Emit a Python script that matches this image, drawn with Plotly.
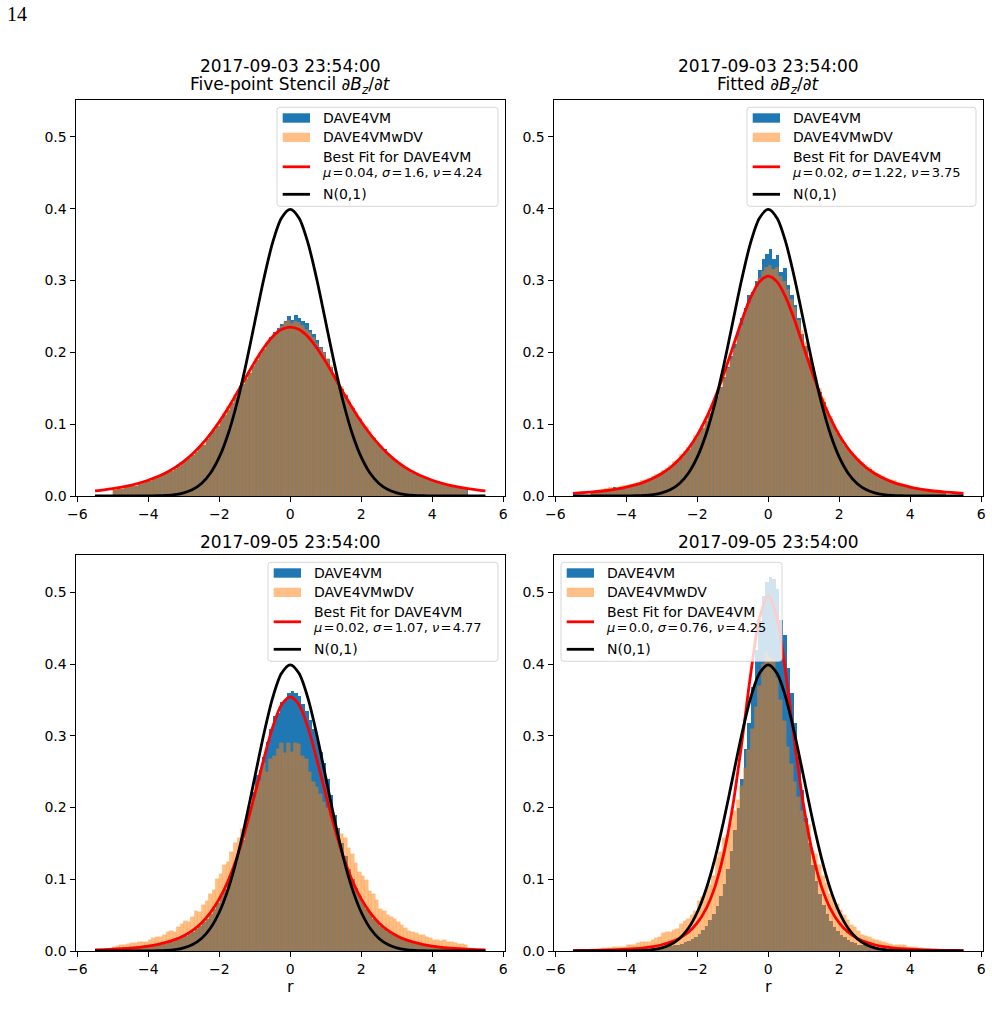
import numpy as np
import plotly.graph_objects as go

W, H = 992, 1031
FONT = "DejaVu Sans"

# ---------------- data ----------------
bin_start, bin_width, n_bins = -5.0, 0.1, 100
curve_x = np.linspace(-5.5, 5.5, 45)

titles = [
    ["2017-09-03 23:54:00", "Five-point Stencil ∂<i>B</i><sub><i>z</i></sub>/∂<i>t</i>"],
    ["2017-09-03 23:54:00", "Fitted ∂<i>B</i><sub><i>z</i></sub>/∂<i>t</i>"],
    ["2017-09-05 23:54:00"],
    ["2017-09-05 23:54:00"],
]
series_names = ["DAVE4VM", "DAVE4VMwDV", "Best Fit for DAVE4VM", "N(0,1)"]
EQ = "\u200a=\u200a"
fit_labels = [
    f"<i>μ</i>{EQ}0.04, <i>σ</i>{EQ}1.6, <i>ν</i>{EQ}4.24",
    f"<i>μ</i>{EQ}0.02, <i>σ</i>{EQ}1.22, <i>ν</i>{EQ}3.75",
    f"<i>μ</i>{EQ}0.02, <i>σ</i>{EQ}1.07, <i>ν</i>{EQ}4.77",
    f"<i>μ</i>{EQ}0.0, <i>σ</i>{EQ}0.76, <i>ν</i>{EQ}4.25",
]

a_blue = [
    0.009, 0.012, 0.011, 0.013, 0.014, 0.016, 0.015, 0.018, 0.019, 0.021,
    0.022, 0.024, 0.027, 0.028, 0.031, 0.035, 0.036, 0.038, 0.043, 0.046,
    0.051, 0.053, 0.058, 0.062, 0.070, 0.072, 0.080, 0.088, 0.092, 0.098,
    0.107, 0.113, 0.121, 0.130, 0.139, 0.148, 0.157, 0.164, 0.172, 0.181,
    0.190, 0.198, 0.206, 0.215, 0.222, 0.229, 0.234, 0.240, 0.244, 0.251,
    0.246, 0.252, 0.249, 0.244, 0.241, 0.232, 0.226, 0.218, 0.208, 0.201,
    0.192, 0.180, 0.168, 0.160, 0.150, 0.141, 0.132, 0.123, 0.114, 0.108,
    0.099, 0.093, 0.086, 0.081, 0.073, 0.069, 0.066, 0.059, 0.054, 0.050,
    0.045, 0.044, 0.040, 0.036, 0.033, 0.030, 0.029, 0.026, 0.025, 0.023,
    0.021, 0.020, 0.018, 0.017, 0.015, 0.014, 0.014, 0.012, 0.011, 0.010,
]
a_orange = [
    0.010, 0.011, 0.012, 0.012, 0.014, 0.015, 0.016, 0.017, 0.020, 0.021,
    0.023, 0.025, 0.026, 0.029, 0.032, 0.033, 0.037, 0.040, 0.042, 0.047,
    0.049, 0.055, 0.057, 0.064, 0.068, 0.075, 0.079, 0.086, 0.094, 0.100,
    0.106, 0.115, 0.124, 0.129, 0.141, 0.147, 0.158, 0.163, 0.174, 0.182,
    0.191, 0.199, 0.205, 0.213, 0.219, 0.226, 0.230, 0.236, 0.241, 0.244,
    0.240, 0.243, 0.241, 0.238, 0.232, 0.228, 0.220, 0.212, 0.206, 0.200,
    0.191, 0.181, 0.170, 0.158, 0.152, 0.142, 0.134, 0.125, 0.116, 0.109,
    0.101, 0.097, 0.090, 0.082, 0.075, 0.070, 0.063, 0.058, 0.055, 0.051,
    0.047, 0.042, 0.039, 0.037, 0.034, 0.031, 0.028, 0.027, 0.024, 0.022,
    0.021, 0.019, 0.018, 0.016, 0.016, 0.014, 0.013, 0.013, 0.011, 0.010,
]
b_blue = [
    0.006, 0.007, 0.009, 0.009, 0.010, 0.011, 0.013, 0.011, 0.012, 0.013,
    0.014, 0.016, 0.017, 0.018, 0.020, 0.022, 0.024, 0.025, 0.028, 0.033,
    0.035, 0.037, 0.041, 0.045, 0.050, 0.055, 0.060, 0.066, 0.074, 0.081,
    0.091, 0.095, 0.105, 0.116, 0.128, 0.140, 0.152, 0.166, 0.180, 0.196,
    0.213, 0.232, 0.248, 0.262, 0.280, 0.285, 0.300, 0.315, 0.330, 0.338,
    0.344, 0.330, 0.336, 0.312, 0.318, 0.295, 0.280, 0.266, 0.248, 0.226,
    0.210, 0.193, 0.177, 0.160, 0.146, 0.131, 0.119, 0.108, 0.097, 0.088,
    0.080, 0.072, 0.066, 0.060, 0.055, 0.050, 0.045, 0.041, 0.038, 0.034,
    0.031, 0.029, 0.026, 0.023, 0.022, 0.020, 0.018, 0.017, 0.015, 0.013,
    0.012, 0.012, 0.010, 0.009, 0.009, 0.008, 0.007, 0.008, 0.006, 0.006,
]
b_orange = [
    0.006, 0.008, 0.008, 0.009, 0.010, 0.012, 0.011, 0.012, 0.013, 0.014,
    0.015, 0.016, 0.018, 0.019, 0.021, 0.023, 0.024, 0.027, 0.030, 0.031,
    0.036, 0.038, 0.042, 0.048, 0.050, 0.058, 0.062, 0.068, 0.073, 0.084,
    0.089, 0.098, 0.106, 0.115, 0.126, 0.138, 0.151, 0.163, 0.178, 0.190,
    0.205, 0.222, 0.238, 0.255, 0.268, 0.282, 0.292, 0.303, 0.312, 0.318,
    0.321, 0.316, 0.318, 0.305, 0.298, 0.288, 0.274, 0.262, 0.245, 0.230,
    0.214, 0.198, 0.180, 0.165, 0.150, 0.136, 0.123, 0.110, 0.099, 0.091,
    0.083, 0.075, 0.068, 0.062, 0.056, 0.052, 0.047, 0.043, 0.040, 0.035,
    0.032, 0.030, 0.027, 0.025, 0.023, 0.021, 0.019, 0.017, 0.016, 0.014,
    0.013, 0.012, 0.011, 0.010, 0.009, 0.009, 0.008, 0.007, 0.007, 0.006,
]
c_blue = [
    0.002, 0.003, 0.003, 0.003, 0.004, 0.004, 0.004, 0.005, 0.005, 0.006,
    0.006, 0.007, 0.008, 0.009, 0.010, 0.012, 0.013, 0.015, 0.017, 0.019,
    0.021, 0.024, 0.027, 0.031, 0.035, 0.040, 0.045, 0.052, 0.059, 0.067,
    0.076, 0.086, 0.097, 0.110, 0.124, 0.139, 0.155, 0.176, 0.196, 0.222,
    0.245, 0.252, 0.270, 0.292, 0.310, 0.328, 0.332, 0.347, 0.350, 0.360,
    0.362, 0.360, 0.355, 0.345, 0.335, 0.322, 0.310, 0.295, 0.278, 0.262,
    0.240, 0.218, 0.190, 0.172, 0.150, 0.132, 0.115, 0.100, 0.088, 0.077,
    0.068, 0.059, 0.052, 0.045, 0.040, 0.035, 0.031, 0.027, 0.024, 0.021,
    0.019, 0.017, 0.015, 0.013, 0.012, 0.010, 0.009, 0.008, 0.007, 0.007,
    0.006, 0.005, 0.005, 0.004, 0.004, 0.004, 0.003, 0.003, 0.003, 0.002,
]
c_orange = [
    0.006, 0.007, 0.008, 0.009, 0.010, 0.011, 0.011, 0.012, 0.013, 0.013,
    0.015, 0.018, 0.020, 0.019, 0.023, 0.026, 0.028, 0.027, 0.033, 0.038,
    0.042, 0.041, 0.048, 0.056, 0.055, 0.064, 0.070, 0.080, 0.085, 0.100,
    0.108, 0.120, 0.124, 0.138, 0.150, 0.157, 0.170, 0.182, 0.200, 0.215,
    0.228, 0.237, 0.262, 0.250, 0.268, 0.272, 0.282, 0.290, 0.276, 0.290,
    0.277, 0.290, 0.288, 0.272, 0.268, 0.250, 0.236, 0.228, 0.219, 0.208,
    0.200, 0.190, 0.178, 0.170, 0.163, 0.157, 0.143, 0.135, 0.122, 0.110,
    0.105, 0.099, 0.083, 0.079, 0.071, 0.058, 0.056, 0.050, 0.047, 0.045,
    0.040, 0.036, 0.032, 0.028, 0.027, 0.025, 0.023, 0.022, 0.020, 0.018,
    0.016, 0.015, 0.014, 0.015, 0.013, 0.012, 0.011, 0.010, 0.010, 0.008,
]
d_blue = [
    0.001, 0.001, 0.001, 0.001, 0.001, 0.001, 0.001, 0.002, 0.002, 0.002,
    0.002, 0.002, 0.002, 0.003, 0.003, 0.003, 0.003, 0.004, 0.004, 0.005,
    0.005, 0.006, 0.007, 0.008, 0.009, 0.010, 0.012, 0.014, 0.017, 0.020,
    0.024, 0.029, 0.035, 0.043, 0.052, 0.063, 0.077, 0.094, 0.115, 0.140,
    0.168, 0.200, 0.240, 0.282, 0.318, 0.368, 0.420, 0.460, 0.495, 0.515,
    0.522, 0.518, 0.505, 0.462, 0.440, 0.395, 0.360, 0.318, 0.270, 0.225,
    0.185, 0.150, 0.120, 0.098, 0.080, 0.064, 0.052, 0.042, 0.034, 0.028,
    0.023, 0.019, 0.016, 0.013, 0.011, 0.009, 0.008, 0.007, 0.006, 0.005,
    0.005, 0.004, 0.004, 0.003, 0.003, 0.003, 0.002, 0.002, 0.002, 0.002,
    0.002, 0.002, 0.001, 0.001, 0.001, 0.001, 0.001, 0.001, 0.001, 0.001,
]
d_orange = [
    0.003, 0.003, 0.003, 0.004, 0.004, 0.004, 0.005, 0.005, 0.005, 0.006,
    0.008, 0.009, 0.009, 0.011, 0.012, 0.012, 0.013, 0.016, 0.018, 0.019,
    0.025, 0.026, 0.027, 0.029, 0.030, 0.038, 0.042, 0.045, 0.050, 0.056,
    0.070, 0.075, 0.085, 0.092, 0.105, 0.130, 0.138, 0.158, 0.162, 0.180,
    0.195, 0.210, 0.230, 0.255, 0.280, 0.310, 0.340, 0.370, 0.400, 0.415,
    0.410, 0.405, 0.380, 0.350, 0.320, 0.285, 0.260, 0.235, 0.215, 0.195,
    0.180, 0.175, 0.140, 0.135, 0.120, 0.105, 0.095, 0.080, 0.072, 0.066,
    0.057, 0.050, 0.043, 0.036, 0.033, 0.028, 0.022, 0.021, 0.019, 0.017,
    0.015, 0.014, 0.013, 0.011, 0.010, 0.009, 0.008, 0.008, 0.009, 0.006,
    0.005, 0.005, 0.004, 0.004, 0.003, 0.003, 0.003, 0.002, 0.002, 0.002,
]

# fitted curves sampled on curve_x (-5.5 .. 5.5 step 0.25)
a_fit = [0.0072, 0.0086, 0.0103, 0.0124, 0.0149, 0.0181, 0.0219, 0.0267, 0.0325, 0.0396,
         0.0483, 0.0589, 0.0715, 0.0863, 0.1034, 0.1226, 0.1436, 0.1654, 0.1867, 0.2060,
         0.2216, 0.2317, 0.2352, 0.2317, 0.2216, 0.2060, 0.1867, 0.1654, 0.1436, 0.1226,
         0.1034, 0.0863, 0.0715, 0.0589, 0.0483, 0.0396, 0.0325, 0.0267, 0.0219, 0.0181,
         0.0149, 0.0124, 0.0103, 0.0086, 0.0072]
b_fit = [0.0037, 0.0045, 0.0054, 0.0066, 0.0080, 0.0099, 0.0123, 0.0154, 0.0194, 0.0246,
         0.0313, 0.0400, 0.0514, 0.0661, 0.0848, 0.1083, 0.1369, 0.1703, 0.2069, 0.2437,
         0.2758, 0.2981, 0.3061, 0.2981, 0.2758, 0.2437, 0.2069, 0.1703, 0.1369, 0.1083,
         0.0848, 0.0661, 0.0514, 0.0400, 0.0313, 0.0246, 0.0194, 0.0154, 0.0123, 0.0099,
         0.0080, 0.0066, 0.0054, 0.0045, 0.0037]
c_fit = [0.0016, 0.0020, 0.0025, 0.0032, 0.0041, 0.0052, 0.0068, 0.0090, 0.0119, 0.0159,
         0.0213, 0.0289, 0.0392, 0.0534, 0.0726, 0.0980, 0.1309, 0.1714, 0.2181, 0.2669,
         0.3113, 0.3428, 0.3542, 0.3428, 0.3113, 0.2669, 0.2181, 0.1714, 0.1309, 0.0980,
         0.0726, 0.0534, 0.0392, 0.0289, 0.0213, 0.0159, 0.0119, 0.0090, 0.0068, 0.0052,
         0.0041, 0.0032, 0.0025, 0.0020, 0.0016]
d_fit = [0.0006, 0.0007, 0.0009, 0.0011, 0.0014, 0.0019, 0.0025, 0.0033, 0.0045, 0.0062,
         0.0087, 0.0124, 0.0179, 0.0262, 0.0392, 0.0591, 0.0898, 0.1360, 0.2017, 0.2883,
         0.3840, 0.4638, 0.4954, 0.4638, 0.3840, 0.2883, 0.2017, 0.1360, 0.0898, 0.0591,
         0.0392, 0.0262, 0.0179, 0.0124, 0.0087, 0.0062, 0.0045, 0.0033, 0.0025, 0.0019,
         0.0014, 0.0011, 0.0009, 0.0007, 0.0006]
std_normal = [0.0, 0.0, 0.0, 0.0, 0.0, 0.0, 0.0001, 0.0004, 0.0009, 0.0020,
              0.0044, 0.0091, 0.0175, 0.0317, 0.0540, 0.0863, 0.1295, 0.1826, 0.2420, 0.3011,
              0.3521, 0.3867, 0.3989, 0.3867, 0.3521, 0.3011, 0.2420, 0.1826, 0.1295, 0.0863,
              0.0540, 0.0317, 0.0175, 0.0091, 0.0044, 0.0020, 0.0009, 0.0004, 0.0001, 0.0,
              0.0, 0.0, 0.0, 0.0, 0.0]

blue_sets = [a_blue, b_blue, c_blue, d_blue]
orange_sets = [a_orange, b_orange, c_orange, d_orange]
fit_sets = [a_fit, b_fit, c_fit, d_fit]

x_ticks = [-6, -4, -2, 0, 2, 4, 6]
y_ticks = [0.0, 0.1, 0.2, 0.3, 0.4, 0.5]
y_tick_text = ["0.0", "0.1", "0.2", "0.3", "0.4", "0.5"]

# ---------------- layout geometry (page pixels) ----------------
panels = [
    dict(sfx="", x0=75.5, x1=505.0, y0=99.5, y1=496.0),
    dict(sfx="2", x0=553.5, x1=983.0, y0=99.5, y1=496.0),
    dict(sfx="3", x0=75.5, x1=505.0, y0=555.0, y1=951.0),
    dict(sfx="4", x0=553.5, x1=983.0, y0=555.0, y1=951.0),
]
legend_boxes = [  # (left, top, width) in page pixels
    (277.0, 107.3, 221.0),
    (747.0, 107.3, 229.0),
    (268.0, 562.3, 230.0),
    (561.0, 562.3, 221.0),
]


def px(x):
    return x / W


def py(y):
    return 1 - y / H


centers = bin_start + bin_width * (np.arange(n_bins) + 0.5)

fig = go.Figure()
layout = dict(
    width=W, height=H, autosize=False, margin=dict(l=0, r=0, t=0, b=0, pad=0),
    plot_bgcolor="white", paper_bgcolor="white", showlegend=False,
    barmode="overlay", bargap=0, font=dict(family=FONT, color="black"),
)
axis_common = dict(
    ticks="outside", ticklen=5, tickwidth=1, tickcolor="black",
    showline=True, linecolor="black", linewidth=1, mirror=True,
    showgrid=False, zeroline=False, automargin=False,
    tickfont=dict(family=FONT, size=14, color="black"),
)

annotations = []
shapes = []

for i, p in enumerate(panels):
    s = p["sfx"]
    layout["xaxis" + s] = dict(
        axis_common, domain=[px(p["x0"]), px(p["x1"])], range=[-6.05, 6.05],
        tickvals=x_ticks, anchor="y" + s)
    layout["yaxis" + s] = dict(
        axis_common, domain=[py(p["y1"]), py(p["y0"])], range=[0, 0.552],
        tickvals=y_ticks, ticktext=y_tick_text, anchor="x" + s)
    xa, ya = "x" + s, "y" + s
    fig.add_trace(go.Bar(
        x=centers, y=blue_sets[i], width=bin_width, xaxis=xa, yaxis=ya,
        marker=dict(color="#1f77b4", line=dict(width=0)), name=series_names[0]))
    fig.add_trace(go.Bar(
        x=centers, y=orange_sets[i], width=bin_width, xaxis=xa, yaxis=ya,
        marker=dict(color="rgba(255,127,14,0.5)",
                    line=dict(width=0.4, color="rgba(255,127,14,0.4)")),
        name=series_names[1]))
    fig.add_trace(go.Scatter(
        x=curve_x, y=fit_sets[i], mode="lines", xaxis=xa, yaxis=ya,
        line=dict(color="red", width=2.8, shape="spline", smoothing=0.8),
        name=series_names[2]))
    fig.add_trace(go.Scatter(
        x=curve_x, y=std_normal, mode="lines", xaxis=xa, yaxis=ya,
        line=dict(color="black", width=2.8, shape="spline", smoothing=0.8),
        name=series_names[3]))

    # titles
    cx = (p["x0"] + p["x1"]) / 2
    t = titles[i]
    if len(t) == 2:
        rows = [(t[0], p["y0"] - 33.5), (t[1], p["y0"] - 13.5)]
    else:
        rows = [(t[0], p["y0"] - 13.5)]
    for txt, yy in rows:
        annotations.append(dict(
            text=txt, x=px(cx), y=py(yy), xref="paper", yref="paper",
            xanchor="center", yanchor="middle", showarrow=False,
            font=dict(family=FONT, size=17, color="black")))

    # legend (matplotlib-like frame)
    bx, by, bw = legend_boxes[i]
    bh = 99.0
    r = 3.0
    X0, X1, Y0, Y1 = bx, bx + bw, by, by + bh
    path = (
        f"M {px(X0 + r)},{py(Y0)} L {px(X1 - r)},{py(Y0)} "
        f"Q {px(X1)},{py(Y0)} {px(X1)},{py(Y0 + r)} "
        f"L {px(X1)},{py(Y1 - r)} Q {px(X1)},{py(Y1)} {px(X1 - r)},{py(Y1)} "
        f"L {px(X0 + r)},{py(Y1)} Q {px(X0)},{py(Y1)} {px(X0)},{py(Y1 - r)} "
        f"L {px(X0)},{py(Y0 + r)} Q {px(X0)},{py(Y0)} {px(X0 + r)},{py(Y0)} Z"
    )
    shapes.append(dict(type="path", path=path, xref="paper", yref="paper",
                       fillcolor="rgba(255,255,255,0.8)",
                       line=dict(color="rgba(204,204,204,0.8)", width=1),
                       layer="above"))
    hx0, hx1 = bx + 5.7, bx + 33.0
    shapes.append(dict(type="rect", xref="paper", yref="paper",
                       x0=px(hx0), x1=px(hx1), y0=py(by + 15.4), y1=py(by + 6.0),
                       fillcolor="#1f77b4", line=dict(width=0), layer="above"))
    shapes.append(dict(type="rect", xref="paper", yref="paper",
                       x0=px(hx0), x1=px(hx1), y0=py(by + 34.7), y1=py(by + 25.4),
                       fillcolor="rgba(255,127,14,0.5)", line=dict(width=0),
                       layer="above"))
    shapes.append(dict(type="line", xref="paper", yref="paper",
                       x0=px(hx0), x1=px(hx1), y0=py(by + 59.5), y1=py(by + 59.5),
                       line=dict(color="red", width=2.8), layer="above"))
    shapes.append(dict(type="line", xref="paper", yref="paper",
                       x0=px(hx0), x1=px(hx1), y0=py(by + 87.0), y1=py(by + 87.0),
                       line=dict(color="black", width=2.8), layer="above"))
    tx = bx + 44.0
    for txt, dy, fs, dx in [(series_names[0], 10.5, 14, 0), (series_names[1], 30.0, 14, 0),
                            (series_names[2], 50.0, 14, 0), (fit_labels[i], 65.5, 13, -1.5),
                            (series_names[3], 87.0, 14, 0)]:
        annotations.append(dict(
            text=txt, x=px(tx + dx), y=py(by + dy), xref="paper", yref="paper",
            xanchor="left", yanchor="middle", align="left", showarrow=False,
            font=dict(family=FONT, size=fs, color="black")))

    if i >= 2:
        annotations.append(dict(
            text="r", x=px(cx), y=py(986), xref="paper", yref="paper",
            xanchor="center", yanchor="middle", showarrow=False,
            font=dict(family=FONT, size=16, color="black")))

annotations.append(dict(
    text="14", x=px(5), y=py(14), xref="paper", yref="paper",
    xanchor="left", yanchor="middle", showarrow=False,
    font=dict(family="Liberation Serif", size=20, color="black")))

layout["annotations"] = annotations
layout["shapes"] = shapes
fig.update_layout(**layout)
fig.write_html(
    "out.html",
    post_script=("document.documentElement.style.margin='0';"
                 "document.body.style.margin='0';document.body.style.padding='0';"
                 "document.body.style.overflow='hidden';"),
)
